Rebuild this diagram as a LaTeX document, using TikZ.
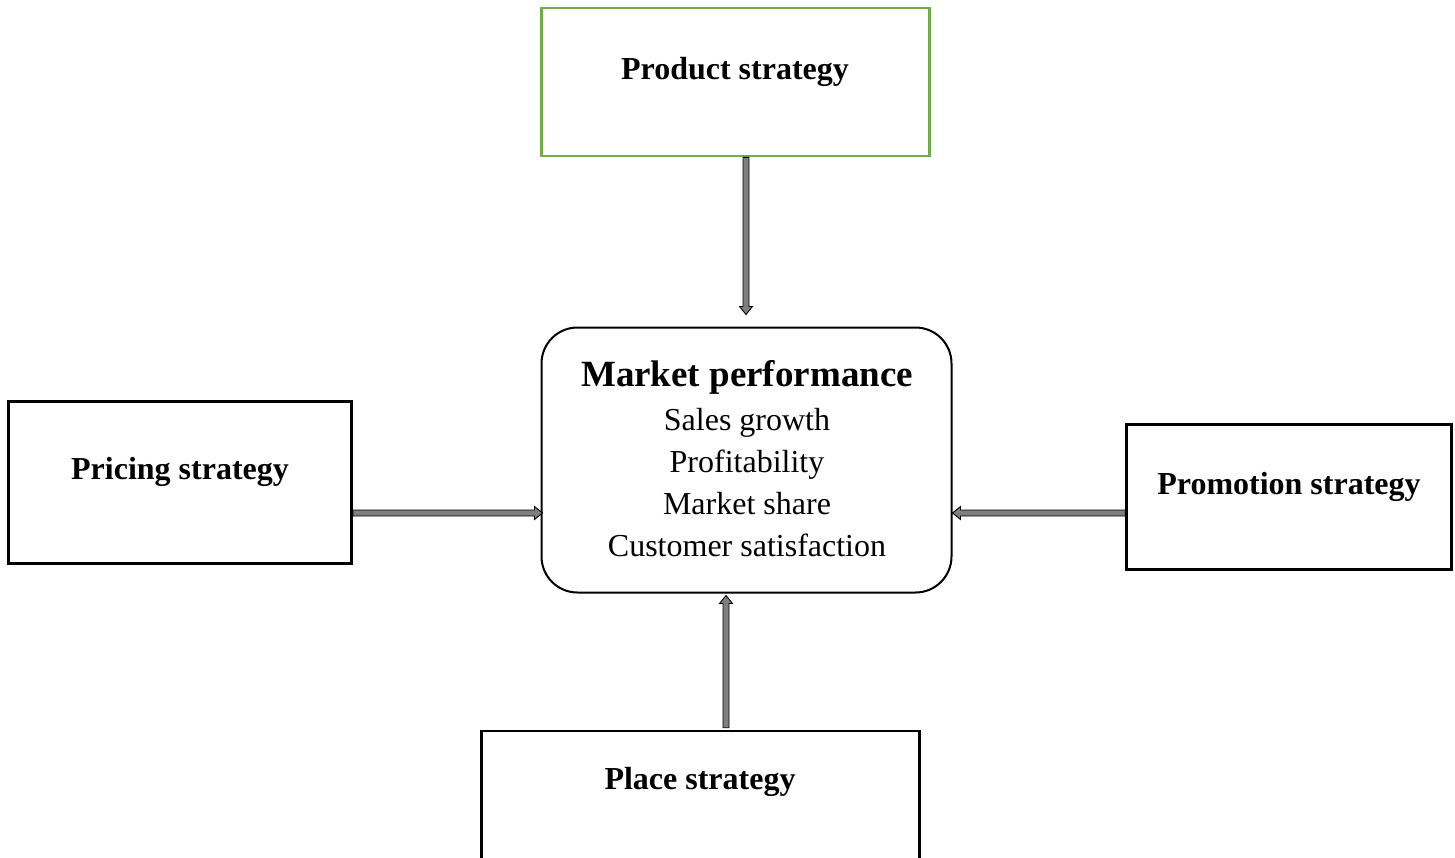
\documentclass[tikz,border=0pt]{standalone}
\usepackage{fontspec}
\setmainfont{Liberation Serif}
\usetikzlibrary{calc}
\definecolor{boxgreen}{HTML}{70AD47}
\definecolor{arrowgray}{HTML}{7F7F7F}
\tikzset{
  boxshape/.style={rectangle, draw=black, line width=2.6pt, inner sep=0pt, fill=white},
  greenbox/.style={boxshape, draw=boxgreen},
  roundbox/.style={rectangle, draw=black, line width=2pt, rounded corners=36pt, inner sep=0pt},
  labeltext/.style={font=\fontsize{32}{38}\selectfont\bfseries, anchor=base, inner sep=0pt},
  titletext/.style={font=\fontsize{37}{44}\selectfont\bfseries, anchor=base, inner sep=0pt},
  linetext/.style={font=\fontsize{32}{38}\selectfont, anchor=base, inner sep=0pt},
  blockarrow/.style={fill=arrowgray, draw=black, line width=0.9pt, line join=miter}
}
\newcommand{\myblockarrow}[2]{%
  \coordinate (hb) at ($(#2)!8pt!(#1)$);
  \filldraw[blockarrow]
    ($(#1)!3pt!90:(#2)$) -- ($(hb)!3pt!90:(#2)$) -- ($(hb)!6.5pt!90:(#2)$) --
    (#2) -- ($(hb)!6.5pt!-90:(#2)$) -- ($(hb)!3pt!-90:(#2)$) --
    ($(#1)!3pt!-90:(#2)$) -- cycle;
}
\begin{document}
\begin{tikzpicture}[x=1pt,y=-1pt]
\useasboundingbox (0,0) rectangle (1455,857);
% boxes
\node[greenbox, minimum width=388pt, minimum height=148pt] (product) at (735.5,82) {};
\node[roundbox, minimum width=410pt, minimum height=265pt] (market) at (746.5,460) {};
\node[boxshape, minimum width=343pt, minimum height=162pt] (pricing) at (180,482.5) {};
\node[boxshape, minimum width=325pt, minimum height=145pt] (promotion) at (1289,497) {};
\node[boxshape, minimum width=438pt, minimum height=130pt] (place) at (700.5,796) {};
% labels
\node[labeltext] (productlbl) at (735,79) {Product strategy};
\node[labeltext] (pricinglbl) at (180,479) {Pricing strategy};
\node[labeltext] (promotionlbl) at (1289,494) {Promotion strategy};
\node[labeltext] (placelbl) at (700,789) {Place strategy};
\node[titletext] (markettitle) at (747,386) {Market performance};
\node[linetext] (l1) at (747,430) {Sales growth};
\node[linetext] (l2) at (747,472) {Profitability};
\node[linetext] (l3) at (747,514) {Market share};
\node[linetext] (l4) at (747,556) {Customer satisfaction};
% connector end points
\coordinate (a1s) at (product.south -| 746,0);
\coordinate (a1e) at ($(market.north -| 746,0)+(0,-12)$);
\coordinate (a2s) at (pricing.east |- 0,513);
\coordinate (a2e) at ($(market.west |- 0,513)+(2,0)$);
\coordinate (a3s) at (promotion.west |- 0,513);
\coordinate (a3e) at (market.east |- 0,513);
\coordinate (a4s) at ($(place.north -| 726,0)+(0,-2)$);
\coordinate (a4e) at ($(market.south -| 726,0)+(0,2)$);
\myblockarrow{a1s}{a1e}
\myblockarrow{a2s}{a2e}
\myblockarrow{a3s}{a3e}
\myblockarrow{a4s}{a4e}
\end{tikzpicture}
\end{document}
